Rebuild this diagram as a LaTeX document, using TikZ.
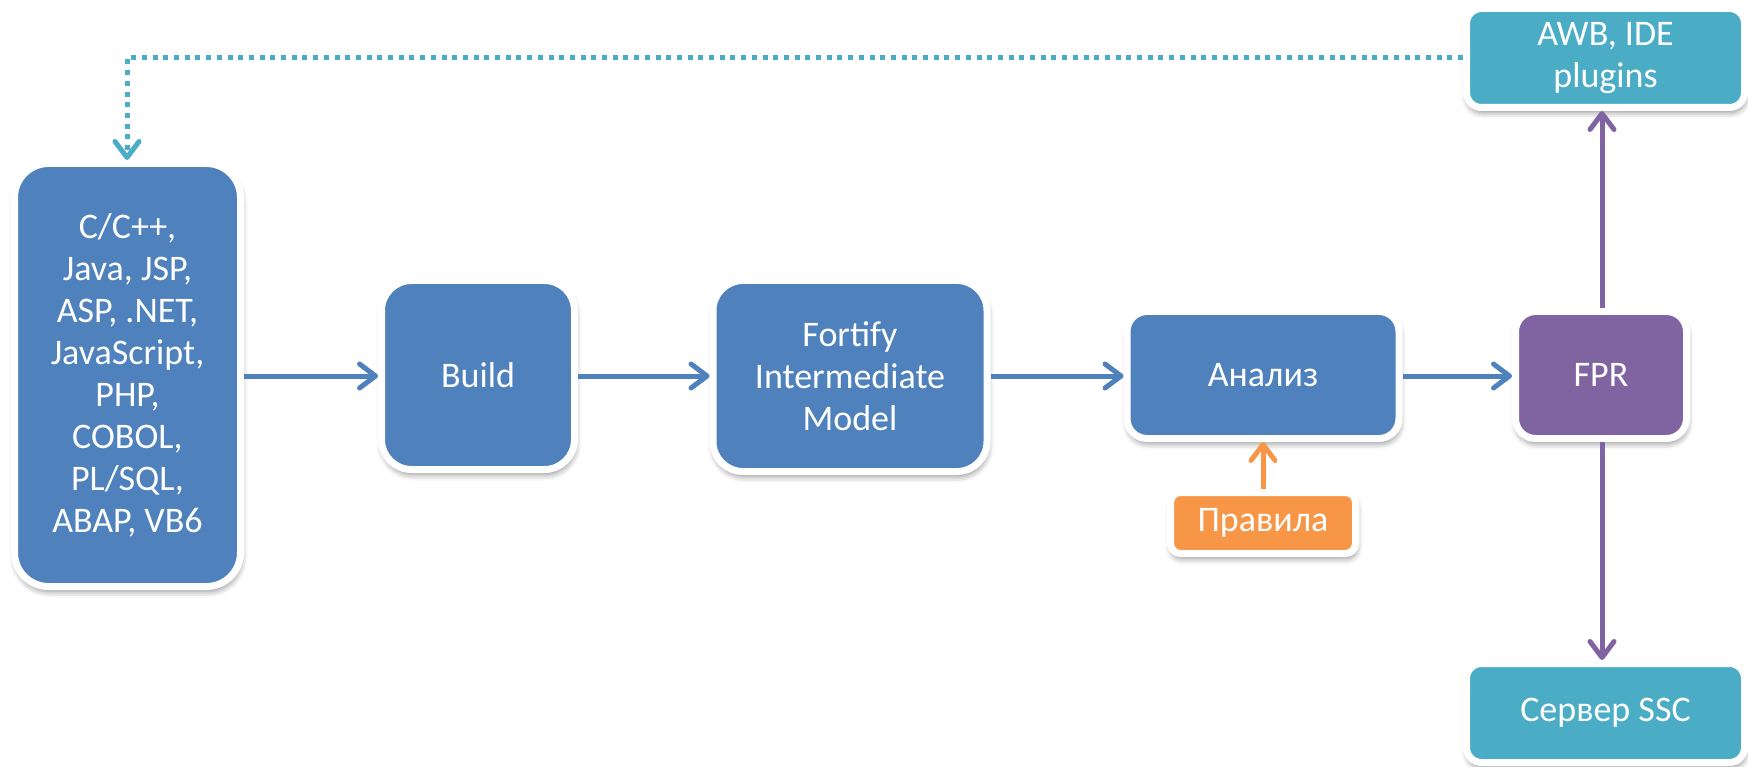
\documentclass[tikz,border=0pt]{standalone}
\usepackage{fontspec}
\setmainfont{Carlito}
\usetikzlibrary{arrows.meta,shadows.blur}
\definecolor{cblue}{HTML}{4F81BD}
\definecolor{cpurple}{HTML}{8064A2}
\definecolor{cteal}{HTML}{4BACC6}
\definecolor{corange}{HTML}{F79646}
\tikzset{
  box/.style={rounded corners=#1, draw=white, line width=7pt, text=white, align=center,
    inner sep=0pt, font=\fontsize{36}{42}\selectfont,
    blur shadow={shadow xshift=1pt, shadow yshift=-5pt, shadow blur radius=6pt, shadow opacity=45}},
  box/.default=30pt,
  conn/.style={line width=5pt, -{Straight Barb[length=16pt,width=24pt,line width=5pt,round]}},
}
\begin{document}
\begin{tikzpicture}[x=1pt,y={(0pt,-1pt)}]
\useasboundingbox (0,0) rectangle (1748,767);
\node[box=34pt, fill=cblue, minimum width=226pt, minimum height=423pt] (src) at (127.5,375)
  {C/C++,\\Java, JSP,\\ASP, .NET,\\JavaScript,\\PHP,\\COBOL,\\PL/SQL,\\ABAP, VB6};
\node[box=30pt, fill=cblue, minimum width=193pt, minimum height=189pt] (build) at (478,375) {Build};
\node[box=30pt, fill=cblue, minimum width=274pt, minimum height=191pt] (fim) at (850,376) {Fortify\\Intermediate\\Model};
\node[box=20pt, fill=cblue, minimum width=272pt, minimum height=127pt] (an) at (1263,375) {Анализ};
\node[box=20pt, fill=cpurple, minimum width=171pt, minimum height=127pt] (fpr) at (1601,375) {FPR};
\node[box=15pt, fill=cteal, minimum width=278pt, minimum height=99pt] (awb) at (1605.5,58) {AWB, IDE\\plugins};
\node[box=15pt, fill=cteal, minimum width=278pt, minimum height=99pt] (ssc) at (1605.5,713) {Сервер SSC};
\node[box=10pt, fill=corange, minimum width=185pt, minimum height=61pt] (rules) at (1263,523) {Правила};
\coordinate (corner) at (127,58);
\draw[conn, draw=cblue] (src.east |- 0,376) -- (build.west |- 0,376);
\draw[conn, draw=cblue] (build.east |- 0,376) -- (fim.west |- 0,376);
\draw[conn, draw=cblue] (fim.east |- 0,376) -- (an.west |- 0,376);
\draw[conn, draw=cblue] (an.east |- 0,376) -- (fpr.west |- 0,376);
\draw[conn, draw=cpurple] (fpr.north -| 1602,0) -- (awb.south -| 1602,0);
\draw[conn, draw=cpurple] (fpr.south -| 1602,0) -- (ssc.north -| 1602,0);
\draw[conn, draw=corange] (rules.north) -- (an.south);
\draw[draw=cteal, line width=5pt, dash pattern=on 5pt off 5.7pt,
  -{Straight Barb[length=16pt,width=24pt,line width=5pt,round]}]
  (awb.west) -- (corner) -- (src.north -| corner);
\end{tikzpicture}
\end{document}
